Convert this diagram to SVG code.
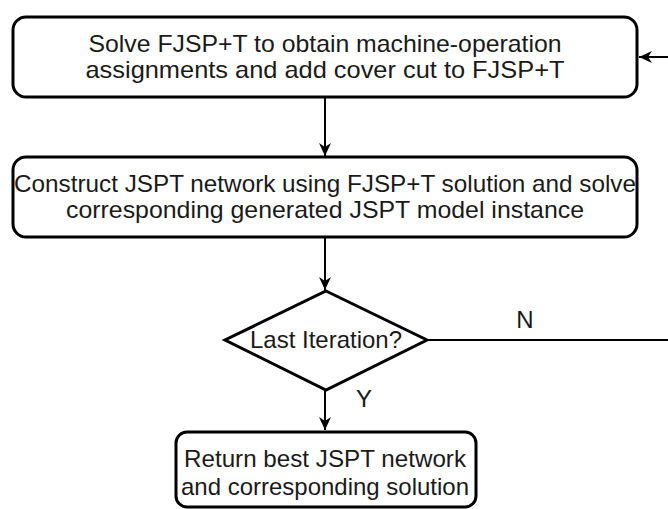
<svg xmlns="http://www.w3.org/2000/svg" width="668" height="509" viewBox="0 0 668 509">
<style>
.box{fill:#fff;stroke:#000;stroke-width:3}
.t{font-family:"Liberation Sans",Arial,sans-serif;font-size:24px;fill:#1a1a1a;text-anchor:middle}
.c{fill:none;stroke:#000;stroke-width:2}
</style>
<defs>
<marker id="ah" viewBox="0 0 14 14" refX="13" refY="7" markerWidth="14" markerHeight="14" markerUnits="userSpaceOnUse" orient="auto">
<path d="M0,1 L13,7 L0,13 L4,7 Z" fill="#000"/>
</marker>
</defs>
<rect width="668" height="509" fill="#fff"/>
<g id="connectors">
<line class="c" x1="325" y1="98" x2="325" y2="156" marker-end="url(#ah)"/>
<line class="c" x1="325" y1="238" x2="325" y2="290" marker-end="url(#ah)"/>
<line class="c" x1="325" y1="391" x2="325" y2="430" marker-end="url(#ah)"/>
<polyline class="c" points="428,340 668,340"/>
<line class="c" x1="668" y1="57" x2="639" y2="57" marker-end="url(#ah)"/>
<text class="t" x="525" y="328">N</text>
<text class="t" x="364" y="407">Y</text>
</g>
<g id="n1">
<rect class="box" x="13" y="17" width="624" height="80" rx="13"/>
<text class="t" x="325" y="52" textLength="473" lengthAdjust="spacingAndGlyphs">Solve FJSP+T to obtain machine-operation</text>
<text class="t" x="325" y="78" textLength="479" lengthAdjust="spacingAndGlyphs">assignments and add cover cut to FJSP+T</text>
</g>
<g id="n2">
<rect class="box" x="13" y="157" width="624" height="80" rx="13"/>
<text class="t" x="325" y="192" textLength="622" lengthAdjust="spacingAndGlyphs">Construct JSPT network using FJSP+T solution and solve</text>
<text class="t" x="325" y="218" textLength="518" lengthAdjust="spacingAndGlyphs">corresponding generated JSPT model instance</text>
</g>
<g id="n3">
<polygon class="box" points="326,291 427,340 326,390 225,340"/>
<text class="t" x="326" y="348" textLength="152" lengthAdjust="spacingAndGlyphs">Last Iteration?</text>
</g>
<g id="n4">
<rect class="box" x="176" y="432" width="300" height="75" rx="11"/>
<text class="t" x="325" y="467" textLength="282" lengthAdjust="spacingAndGlyphs">Return best JSPT network</text>
<text class="t" x="325" y="495" textLength="288" lengthAdjust="spacingAndGlyphs">and corresponding solution</text>
</g>
</svg>
